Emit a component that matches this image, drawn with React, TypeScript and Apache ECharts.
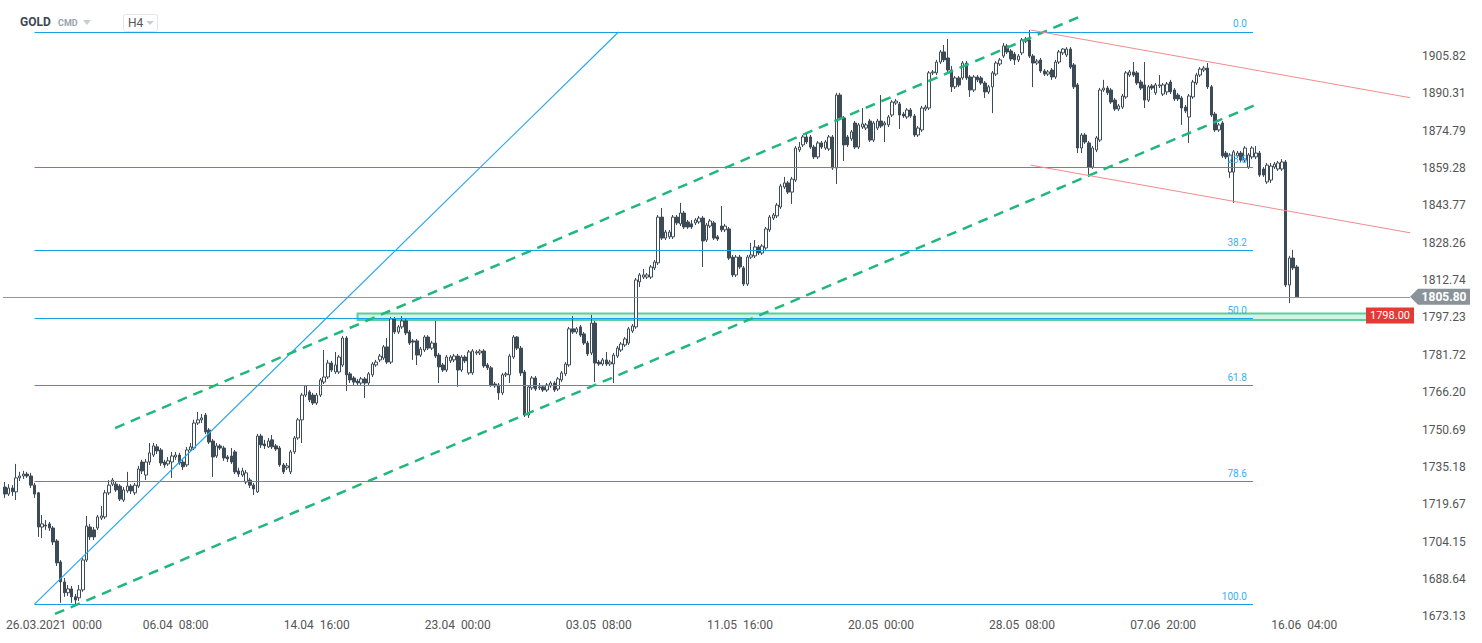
import React, { useEffect, useRef } from "react";
import * as echarts from "echarts";

// ---- Data (GOLD, H4) ----
const opens = [
1726.8,1723.9,1726.4,1724.8,1730.6,1731.4,1732.2,1731.4,1727.6,1724.4,1710.2,1711.0,1711.5,1709.8,1704.4,1695.7,1687.4,1682.9,1684.5,1681.2,
1680.8,1684.1,1696.5,1710.2,1709.0,1709.8,1713.9,1714.4,1724.4,1728.0,1728.0,1727.2,1721.4,1725.2,1727.2,1724.4,1727.2,1737.2,1731.8,1737.2,
1740.1,1743.5,1742.2,1737.2,1736.4,1737.2,1739.3,1740.1,1737.2,1736.0,1742.2,1743.0,1753.4,1754.7,1756.7,1750.5,1745.9,1739.7,1743.9,1743.0,
1739.3,1739.7,1741.4,1733.5,1731.8,1728.9,1729.7,1727.6,1724.8,1748.0,1744.7,1743.5,1746.4,1743.9,1743.0,1736.0,1734.8,1733.1,1741.4,1747.2,
1754.7,1765.0,1766.3,1765.0,1761.7,1765.0,1770.4,1772.5,1778.3,1774.6,1774.6,1777.5,1788.7,1773.8,1772.1,1770.8,1770.0,1771.7,1770.0,1773.4,
1777.5,1779.6,1780.4,1785.0,1778.7,1796.6,1791.2,1793.3,1795.8,1791.2,1787.5,1787.5,1781.6,1783.7,1789.1,1784.5,1786.6,1781.6,1777.5,1775.4,
1779.2,1779.6,1781.2,1775.4,1780.8,1774.2,1774.2,1782.5,1782.5,1783.3,1777.5,1776.3,1769.6,1769.2,1765.9,1773.4,1773.4,1780.8,1789.1,1784.5,
1774.6,1756.7,1768.0,1772.1,1768.0,1768.4,1767.1,1768.8,1770.0,1767.5,1771.3,1773.8,1777.5,1792.5,1791.2,1793.3,1790.4,1786.6,1782.5,1794.9,
1778.7,1777.9,1779.6,1777.9,1777.9,1781.2,1783.7,1785.8,1786.6,1791.6,1793.3,1812.0,1814.0,1814.0,1814.0,1817.8,1819.9,1838.9,1830.2,1830.7,
1830.7,1838.9,1836.1,1840.6,1836.9,1836.1,1836.5,1836.9,1838.5,1829.4,1835.2,1836.5,1830.7,1835.2,1833.6,1834.0,1822.3,1814.9,1822.3,1817.8,
1811.1,1822.3,1822.8,1826.5,1824.0,1826.1,1833.6,1838.5,1839.4,1843.1,1851.4,1853.1,1849.3,1854.3,1866.8,1868.9,1872.2,1872.2,1868.0,1863.9,
1869.7,1867.6,1867.2,1872.2,1859.3,1889.6,1880.1,1872.2,1871.4,1878.0,1868.0,1876.3,1875.9,1878.8,1870.9,1875.9,1878.8,1877.2,1877.2,1881.3,
1886.3,1885.9,1881.7,1880.5,1883.4,1880.9,1873.0,1875.1,1883.8,1884.2,1898.8,1898.8,1903.3,1907.5,1905.0,1900.0,1893.0,1896.7,1896.7,1902.9,
1897.1,1891.7,1897.1,1896.7,1894.6,1890.9,1893.0,1898.3,1902.5,1905.8,1910.0,1907.9,1906.6,1904.2,1907.1,1912.0,1912.5,1905.8,1902.9,1904.2,
1899.6,1898.3,1900.0,1897.1,1903.3,1907.1,1906.2,1908.7,1902.1,1893.8,1867.6,1873.0,1869.7,1859.7,1866.8,1870.9,1891.7,1892.5,1891.7,1887.5,
1883.8,1884.6,1888.8,1897.9,1899.2,1898.8,1895.0,1893.8,1887.5,1893.4,1890.5,1893.4,1890.0,1890.9,1895.0,1891.7,1889.6,1888.4,1884.6,1880.5,
1888.8,1894.6,1897.9,1900.0,1900.8,1893.0,1881.7,1875.1,1878.0,1865.5,1857.6,1857.6,1864.3,1865.5,1862.6,1859.7,1863.9,1863.9,1865.5,1858.9,
1853.5,1854.3,1859.7,1858.9,1858.9,1861.8,1810.7,1821.9,1818.2
];
const closes = [
1723.9,1726.4,1724.8,1730.6,1731.4,1732.2,1731.4,1727.6,1723.9,1710.2,1711.5,1710.6,1709.8,1704.0,1695.3,1687.4,1682.9,1684.5,1681.2,1679.9,
1684.1,1696.5,1710.6,1706.1,1706.1,1714.4,1714.8,1724.4,1727.6,1729.7,1725.6,1721.8,1725.6,1727.2,1725.2,1727.6,1734.3,1733.5,1737.2,1741.0,
1743.9,1741.8,1736.8,1736.0,1737.7,1739.7,1740.1,1736.8,1735.2,1742.2,1743.5,1753.4,1754.7,1755.5,1749.7,1745.5,1739.3,1743.9,1743.0,1738.9,
1738.5,1737.2,1733.1,1732.2,1733.5,1732.7,1727.6,1726.0,1748.0,1744.3,1743.9,1745.9,1743.5,1742.6,1736.0,1733.1,1735.6,1741.4,1747.2,1754.7,
1765.0,1768.8,1763.0,1761.7,1765.0,1771.3,1772.5,1778.3,1775.4,1777.5,1780.8,1788.7,1773.4,1771.3,1770.4,1770.0,1771.7,1770.0,1773.8,1777.9,
1778.7,1781.2,1785.0,1778.7,1796.6,1791.2,1793.3,1795.8,1790.8,1786.6,1787.0,1781.6,1784.1,1789.1,1784.5,1786.6,1781.2,1776.7,1775.4,1780.8,
1780.8,1781.2,1775.4,1780.8,1779.2,1782.9,1783.3,1782.9,1783.3,1777.1,1776.3,1769.2,1768.8,1765.9,1773.4,1773.8,1781.2,1789.1,1784.5,1774.2,
1756.7,1768.4,1772.1,1767.5,1768.4,1767.1,1769.2,1770.0,1767.1,1771.7,1774.2,1777.9,1792.5,1791.2,1792.5,1789.9,1786.6,1782.1,1794.9,1778.3,
1777.9,1779.6,1777.9,1778.7,1781.6,1784.5,1786.2,1788.3,1792.5,1793.7,1812.8,1814.9,1814.9,1814.9,1818.2,1820.3,1838.9,1830.2,1832.7,1832.7,
1838.9,1836.5,1840.6,1834.8,1834.8,1834.8,1837.7,1838.5,1829.0,1835.6,1837.3,1830.2,1829.8,1833.6,1835.2,1821.9,1814.9,1822.3,1818.2,1811.1,
1822.3,1823.2,1826.5,1824.0,1826.9,1834.0,1838.9,1839.8,1843.9,1851.8,1853.1,1849.3,1854.7,1867.6,1868.0,1872.2,1870.1,1868.0,1863.9,1869.7,
1868.0,1870.1,1872.2,1859.3,1889.6,1880.1,1868.9,1868.9,1874.3,1868.0,1877.2,1877.6,1877.2,1870.9,1878.0,1878.8,1876.7,1878.0,1880.5,1886.7,
1887.1,1881.3,1880.9,1883.4,1880.9,1873.0,1875.9,1884.2,1884.6,1898.8,1899.2,1903.3,1907.5,1904.2,1900.0,1893.0,1896.7,1893.8,1902.9,1896.7,
1891.7,1897.1,1895.9,1894.6,1890.9,1893.0,1898.8,1902.9,1904.2,1910.0,1907.5,1904.6,1904.2,1905.8,1912.5,1912.9,1905.8,1902.9,1903.7,1899.6,
1898.3,1899.2,1897.1,1903.3,1907.5,1908.7,1908.7,1901.2,1893.0,1867.6,1873.0,1870.1,1859.7,1867.6,1871.8,1891.7,1892.5,1890.5,1886.7,1883.8,
1885.1,1889.2,1898.8,1899.2,1897.9,1894.6,1892.5,1887.5,1893.0,1892.5,1893.8,1893.8,1893.8,1894.2,1890.9,1888.0,1888.0,1884.2,1883.0,1889.2,
1895.0,1897.9,1900.4,1900.8,1893.0,1881.3,1875.1,1877.2,1864.3,1863.9,1864.7,1866.0,1865.5,1862.6,1867.6,1864.7,1867.6,1865.5,1856.4,1856.4,
1860.5,1860.1,1860.9,1861.4,1861.8,1810.7,1821.9,1817.8,1805.8
];
const lows = [
1722.3,1723.1,1723.1,1721.4,1729.3,1730.2,1730.6,1726.4,1722.3,1706.1,1705.6,1709.0,1708.6,1702.7,1694.0,1678.7,1681.2,1681.6,1678.7,1677.9,
1679.5,1683.3,1695.7,1704.8,1704.8,1709.0,1713.1,1713.5,1723.5,1727.2,1724.8,1721.0,1720.6,1724.4,1723.9,1723.5,1726.4,1732.2,1729.7,1736.0,
1739.3,1740.5,1735.6,1734.8,1735.6,1730.6,1738.1,1736.0,1733.9,1735.2,1741.4,1742.2,1752.6,1753.4,1748.8,1744.7,1731.0,1738.9,1742.2,1737.7,
1737.2,1736.4,1732.2,1731.0,1731.0,1728.0,1726.4,1723.5,1724.4,1743.0,1742.6,1743.0,1742.6,1741.8,1735.2,1732.2,1733.9,1732.2,1740.5,1746.4,
1745.1,1764.2,1762.1,1760.9,1760.9,1764.2,1769.6,1771.7,1774.6,1773.8,1773.8,1776.7,1766.7,1770.0,1769.2,1768.8,1769.2,1763.8,1769.2,1772.5,
1776.7,1778.7,1779.6,1777.9,1777.9,1790.4,1790.4,1792.5,1789.9,1785.8,1779.6,1777.5,1780.8,1782.9,1783.7,1783.7,1780.4,1770.0,1774.6,1774.6,
1778.3,1778.7,1768.4,1774.6,1778.3,1773.4,1773.4,1781.6,1781.6,1776.3,1775.4,1768.4,1768.0,1763.0,1765.0,1772.5,1770.0,1780.0,1783.7,1772.9,
1755.9,1755.5,1767.1,1766.7,1767.1,1766.3,1766.3,1768.0,1766.3,1766.7,1770.4,1772.9,1776.7,1790.4,1790.4,1789.1,1785.8,1781.2,1781.6,1770.4,
1777.1,1777.1,1777.1,1777.1,1770.0,1780.4,1782.9,1785.0,1785.8,1790.8,1792.5,1809.9,1813.2,1813.2,1813.2,1816.9,1819.0,1829.4,1829.4,1829.8,
1829.8,1835.6,1835.2,1834.0,1834.0,1834.0,1835.6,1836.1,1818.2,1828.6,1834.4,1829.4,1829.0,1832.7,1832.7,1821.1,1814.0,1814.0,1817.4,1810.3,
1810.3,1821.5,1821.9,1823.2,1823.2,1825.3,1832.7,1837.7,1838.5,1842.3,1850.6,1848.5,1844.4,1853.5,1865.9,1868.0,1869.3,1867.2,1863.0,1863.0,
1867.2,1866.8,1866.4,1858.5,1852.7,1879.2,1862.2,1868.0,1870.5,1867.2,1867.2,1875.5,1875.1,1870.1,1870.1,1875.1,1875.9,1870.1,1876.3,1880.5,
1885.5,1875.5,1880.1,1879.7,1880.1,1872.2,1872.2,1874.3,1883.0,1883.4,1897.9,1897.9,1902.5,1903.3,1899.2,1890.9,1892.1,1892.9,1895.9,1895.9,
1888.8,1890.9,1895.0,1893.8,1888.4,1890.0,1882.1,1897.5,1901.7,1905.0,1906.6,1903.7,1902.1,1903.3,1906.2,1911.2,1905.0,1892.9,1902.1,1898.8,
1897.5,1897.5,1895.9,1896.3,1902.5,1906.2,1905.4,1900.4,1892.1,1865.5,1865.5,1869.3,1855.6,1858.9,1865.9,1870.1,1890.9,1889.6,1885.9,1883.0,
1883.0,1883.8,1888.0,1897.1,1897.1,1893.8,1891.7,1884.2,1886.7,1891.7,1889.6,1892.5,1889.2,1889.6,1890.0,1887.1,1887.1,1877.2,1882.1,1869.7,
1888.0,1893.8,1897.1,1899.2,1892.1,1880.5,1874.3,1874.3,1863.5,1863.0,1855.2,1844.8,1863.5,1861.8,1861.8,1858.9,1863.0,1863.0,1855.6,1855.6,
1852.7,1853.1,1858.9,1858.1,1858.1,1809.9,1803.2,1816.9,1805.4
];
const highs = [
1728.9,1728.0,1727.6,1736.4,1733.1,1733.5,1733.1,1732.7,1728.5,1724.8,1715.2,1713.1,1712.3,1710.6,1705.2,1696.5,1689.0,1686.1,1685.7,1682.4,
1686.1,1697.3,1714.8,1711.5,1710.2,1715.2,1718.9,1725.6,1729.7,1730.6,1728.9,1728.0,1726.8,1733.1,1728.0,1728.5,1735.6,1738.1,1738.5,1745.1,
1745.1,1744.7,1743.0,1738.1,1739.3,1741.4,1741.4,1741.0,1738.5,1743.5,1745.1,1754.7,1758.0,1757.2,1757.6,1751.3,1746.8,1745.1,1744.7,1743.9,
1740.1,1743.0,1742.2,1734.8,1734.8,1733.9,1730.6,1728.5,1748.9,1748.9,1746.4,1747.2,1748.4,1744.7,1743.9,1736.8,1736.8,1742.2,1748.0,1755.5,
1765.9,1769.2,1767.1,1765.9,1765.9,1772.1,1783.7,1779.6,1779.2,1782.9,1781.6,1789.5,1789.5,1774.6,1772.9,1771.7,1772.5,1772.5,1774.6,1778.7,
1779.6,1782.1,1785.8,1788.7,1797.4,1797.4,1794.1,1797.8,1796.6,1792.0,1788.3,1788.3,1785.0,1789.9,1789.9,1787.5,1795.8,1782.5,1778.3,1781.6,
1781.6,1782.1,1782.1,1781.6,1781.6,1783.7,1784.1,1783.7,1784.1,1784.1,1778.3,1777.1,1770.4,1770.0,1774.2,1774.6,1782.1,1789.9,1789.5,1785.4,
1775.4,1769.2,1772.9,1772.9,1770.0,1769.2,1770.0,1770.8,1770.8,1772.5,1775.0,1778.7,1793.3,1797.8,1793.3,1794.1,1791.2,1787.5,1798.3,1795.8,
1779.6,1780.4,1782.9,1779.6,1782.5,1785.4,1787.0,1789.1,1793.3,1794.5,1813.6,1815.7,1817.4,1815.7,1819.0,1821.1,1839.8,1842.7,1833.6,1833.6,
1839.8,1839.8,1844.8,1841.5,1837.7,1837.7,1838.5,1839.4,1839.4,1836.5,1838.1,1837.3,1831.5,1843.5,1836.1,1834.8,1823.2,1823.2,1823.2,1818.6,
1823.2,1828.2,1829.4,1827.3,1827.7,1834.8,1839.8,1840.6,1844.8,1852.7,1855.6,1853.9,1855.6,1868.4,1870.1,1873.0,1874.3,1873.0,1868.9,1870.5,
1870.5,1870.9,1873.0,1873.0,1890.5,1890.5,1880.9,1873.0,1875.1,1878.8,1878.0,1884.2,1878.0,1879.7,1878.8,1879.7,1889.6,1878.8,1881.3,1887.5,
1888.0,1886.7,1882.6,1884.2,1884.2,1881.7,1876.7,1885.1,1885.5,1899.6,1900.0,1904.2,1908.3,1910.4,1912.9,1901.7,1897.5,1897.5,1903.7,1903.7,
1897.9,1897.9,1897.9,1897.5,1895.4,1893.8,1899.6,1903.7,1905.0,1911.2,1910.8,1908.7,1907.5,1906.6,1913.3,1913.7,1916.6,1906.6,1904.6,1905.0,
1900.4,1900.0,1900.8,1904.2,1908.3,1909.1,1909.5,1909.5,1902.9,1894.6,1873.8,1873.8,1870.5,1868.4,1872.6,1892.5,1895.9,1893.4,1892.5,1888.4,
1885.9,1890.0,1899.6,1900.0,1903.3,1899.6,1895.9,1903.3,1893.8,1894.2,1894.6,1897.9,1894.6,1895.0,1895.9,1892.5,1890.5,1889.2,1885.5,1890.0,
1895.9,1898.8,1901.2,1901.7,1902.9,1893.8,1882.6,1878.0,1878.8,1866.4,1865.5,1866.8,1866.4,1866.4,1868.4,1865.5,1868.4,1868.4,1866.4,1859.7,
1861.4,1861.4,1861.8,1862.2,1863.0,1862.6,1822.8,1825.3,1819.0
];

// x-axis ticks (bar index -> label)
const xTickIndex = [8, 46, 84, 122, 160, 198, 236, 274, 312, 350];
const xTickLabels = [
  "26.03.2021  00:00", "06.04  08:00", "14.04  16:00", "23.04  00:00", "03.05  08:00",
  "11.05  16:00", "20.05  00:00", "28.05  08:00", "07.06  20:00", "16.06  04:00",
];
// y-axis tick labels
const yTickValues = [
  1673.13, 1688.64, 1704.15, 1719.67, 1735.18, 1750.69, 1766.2, 1781.72,
  1797.23, 1812.74, 1828.26, 1843.77, 1859.28, 1874.79, 1890.31, 1905.82,
];
// Fibonacci retracement
const fibLabels = ["0.0", "23.6", "38.2", "50.0", "61.8", "78.6", "100.0"];
const fibPrices = [1915.8, 1859.7, 1825.0, 1797.0, 1769.0, 1729.1, 1678.2];
const fibRange = [8, 336.2];
// Trend lines: [startIndex, startPrice, endIndex, endPrice]
const blueLine = [8, 1678.2, 165.3, 1915.8];
const greenUpper = [29.7, 1751.3, 289.3, 1922.0];
const greenLower = [13.5, 1674.1, 337.5, 1885.9];
const redUpper = [276.3, 1916.6, 378.5, 1888.5];
const redLower = [276.3, 1860.5, 378.5, 1832.4];
// Zone and price tags
const zone = [95, 1798.9, 366.9, 1796.2];
const lastPrice = 1805.8;
const zonePrice = 1798.0;

const TOTAL_SLOTS = 379;
const Y_MIN = 1673.0;
const Y_MAX = 1929.07;

function seg(l: number[], style: any, label?: any) {
  return [
    { coord: [l[0], l[1]], lineStyle: style, label: label || { show: false } },
    { coord: [l[2], l[3]] },
  ];
}

export default function App() {
  const ref = useRef<HTMLDivElement>(null);

  useEffect(() => {
    if (!ref.current) return;
    const chart = echarts.init(ref.current, null, { renderer: "svg" });

    const tickSet = new Set(xTickIndex);
    const categories = Array.from({ length: TOTAL_SLOTS }, (_, i) => {
      const k = xTickIndex.indexOf(i);
      return k >= 0 ? xTickLabels[k] : "b" + i;
    });
    const candleData = opens.map((o, i) => {
      const c = closes[i];
      return [o, c, Math.min(lows[i], o, c), Math.max(highs[i], o, c)];
    });

    const fibColor = "#18a0e4";
    const fibLines = fibPrices.map((p, i) =>
      seg([fibRange[0], p, fibRange[1], p], { color: fibColor, width: 1, type: "solid" }, {
        show: true,
        position: "insideEndTop",
        formatter: fibLabels[i],
        color: "#3aaef0",
        fontSize: 10,
        distance: [6, 3],
      })
    );

    const dashed = { color: "#1fb77c", width: 2.5, type: [10, 7] };
    const redStyle = { color: "#f28b8b", width: 1, type: "solid" };

    const option: any = {
      animation: false,
      backgroundColor: "#ffffff",
      textStyle: { fontFamily: "Roboto, 'Noto Sans', sans-serif" },
      grid: { left: 3, right: 72, top: 0, height: 616.6 },
      xAxis: [
        {
          type: "category",
          data: categories,
          boundaryGap: true,
          axisLine: { show: false },
          axisTick: { show: false },
          splitLine: { show: false },
          axisLabel: {
            interval: (i: number) => tickSet.has(i),
            margin: 2,
            color: "#555",
            fontSize: 12,
            formatter: (v: string, i: number) => (i === xTickIndex[0] ? `{f|${v}}` : v),
            rich: { f: { padding: [0, 0, 0, 39], color: "#555", fontSize: 12 } },
          },
        },
        {
          type: "value",
          min: -0.5,
          max: TOTAL_SLOTS - 0.5,
          show: false,
          splitLine: { show: false },
        },
      ],
      yAxis: {
        type: "value",
        position: "right",
        min: Y_MIN,
        max: Y_MAX,
        scale: true,
        axisLine: { show: false },
        axisTick: { show: false },
        splitLine: { show: false },
        axisLabel: {
          customValues: yTickValues,
          formatter: (v: number) => v.toFixed(2),
          color: "#555",
          fontSize: 12,
          margin: 12,
        },
      },
      series: [
        {
          type: "line",
          xAxisIndex: 1,
          yAxisIndex: 0,
          data: [],
          z: 1,
          silent: true,
          markLine: {
            silent: true,
            symbol: ["none", "none"],
            data: fibLines,
          },
          markArea: {
            silent: true,
            itemStyle: {
              color: "rgba(130,222,180,0.35)",
              borderColor: "#5ccf9c",
              borderWidth: 2,
            },
            data: [[{ coord: [zone[0], zone[1]] }, { coord: [zone[2], zone[3]] }]],
          },
        },
        {
          type: "candlestick",
          xAxisIndex: 0,
          yAxisIndex: 0,
          data: candleData,
          barWidth: 3,
          z: 2,
          itemStyle: {
            color: "#ffffff",
            color0: "#3d4b57",
            borderColor: "#3d4b57",
            borderColor0: "#3d4b57",
            borderWidth: 1,
          },
          markLine: {
            silent: true,
            symbol: ["none", "none"],
            label: { show: false },
            lineStyle: { color: "#8d969c", width: 1, type: "solid" },
            data: [{ yAxis: lastPrice }],
          },
        },
        {
          type: "line",
          xAxisIndex: 1,
          yAxisIndex: 0,
          data: [],
          z: 5,
          silent: true,
          markLine: {
            silent: true,
            symbol: ["none", "none"],
            data: [
              seg(blueLine, { color: "#2aa7ee", width: 1.2, type: "solid" }),
              seg(greenUpper, dashed),
              seg(greenLower, dashed),
              seg(redUpper, redStyle),
              seg(redLower, redStyle),
            ],
          },
        },
      ],
    };

    chart.setOption(option);

    const yLast = chart.convertToPixel({ yAxisIndex: 0 } as any, lastPrice) as number;
    const yZone = chart.convertToPixel({ yAxisIndex: 0 } as any, zonePrice) as number;

    chart.setOption({
      graphic: [
        { type: "text", left: 20, top: 16, style: { text: "GOLD", fill: "#3d4852", font: "bold 12px Roboto" } },
        { type: "text", left: 58, top: 18, style: { text: "CMD", fill: "#9aa3ab", font: "bold 9px Roboto" } },
        { type: "polygon", shape: { points: [[83, 20], [91, 20], [87, 25]] }, style: { fill: "#c8cdd2" } },
        { type: "rect", shape: { x: 123.5, y: 14.5, width: 34, height: 17, r: 2 }, style: { fill: "#fff", stroke: "#e3e6e9", lineWidth: 1 } },
        { type: "text", left: 128, top: 17, style: { text: "H4", fill: "#555", font: "12px Roboto" } },
        { type: "polygon", shape: { points: [[146, 21], [154, 21], [150, 25]] }, style: { fill: "#c8cdd2" } },
        {
          type: "polygon",
          shape: { points: [[1410, yLast], [1418, yLast - 8], [1470, yLast - 8], [1470, yLast + 8], [1418, yLast + 8]] },
          style: { fill: "#8a9399" },
          z: 10,
        },
        {
          type: "text",
          x: 1444,
          y: yLast,
          style: { text: "1805.80", fill: "#fff", font: "bold 12px Roboto", align: "center", verticalAlign: "middle" },
          z: 11,
        },
        {
          type: "rect",
          shape: { x: 1366, y: yZone - 8, width: 48, height: 16 },
          style: { fill: "#e53935" },
          z: 10,
        },
        {
          type: "text",
          x: 1390,
          y: yZone,
          style: { text: "1798.00", fill: "#fff", font: "11px Roboto", align: "center", verticalAlign: "middle" },
          z: 11,
        },
      ],
    });

    return () => chart.dispose();
  }, []);

  return (
    <div
      ref={ref}
      style={{ position: "fixed", left: 0, top: 0, width: 1482, height: 643, background: "#fff" }}
    />
  );
}
